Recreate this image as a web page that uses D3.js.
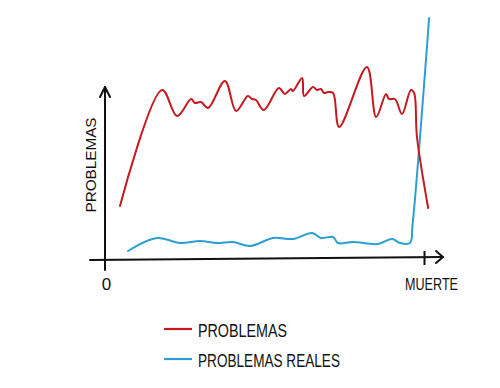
<!DOCTYPE html>
<html><head><meta charset="utf-8">
<script src="https://cdn.jsdelivr.net/npm/d3@7"></script>
<style>body{margin:0;background:#fff}svg{display:block}</style>
</head><body>
<svg id="c" width="500" height="388"></svg>
<script>
// Data (x: 0 = birth, 100 = death; y: arbitrary "problem" units)
const seriesNames = ["PROBLEMAS", "PROBLEMAS REALES"];
const seriesColors = ["#c41a1f", "#2b9fd3"];
const xTickValues = [0, 100];
const xTickLabels = ["0", "MUERTE"];
const yLabel = "PROBLEMAS";

const problemasX = [4.7,17.9,22.6,27.0,28.2,30.1,32.3,37.6,41.1,44.8,46.1,47.3,49.8,54.5,56.4,58.3,58.9,61.8,62.4,65.2,66.5,67.7,68.7,69.9,71.5,73.4,82.1,85.0,88.1,89.0,90.9,93.1,95.9,96.9,97.8,101.3];
const problemasY = [26.5,84.5,71.5,80,78,78.5,75.5,89,74,81.5,80,79.5,74.5,85.5,82.5,85,84,90.5,81.5,86,84.5,85,83,83.5,83,66,96,71,82.5,80,80,72.5,84.5,83,61,25.5];

const realesX = [7.2,16.3,23.5,29.8,35.1,40.1,45.5,52.7,58.9,64.9,67.7,71.5,73.0,77.7,85.6,90.0,92.5,95.6,96.4,101.6];
const realesY = [4,10.5,8,9,8,8.5,6.5,10.5,10,13,10.5,11,8,8.5,7.5,10,8,8,17,120.5];

const svg = d3.select("#c");
const x = d3.scaleLinear().domain([0, 100]).range([105, 424]);
const y = d3.scaleLinear().domain([0, 100]).range([259, 59]);

const ink = "#111";
const font = "'Liberation Sans', Arial, sans-serif";

// Y axis line with open arrow
svg.append("line").attr("x1", x(0)).attr("x2", x(0)).attr("y1", 270).attr("y2", 87)
  .attr("stroke", ink).attr("stroke-width", 2).attr("stroke-linecap", "round");
svg.append("path").attr("d", `M${x(0)-5},97 L${x(0)},87 L${x(0)+5},97`)
  .attr("fill", "none").attr("stroke", ink).attr("stroke-width", 2).attr("stroke-linecap", "round").attr("stroke-linejoin", "round");

// X axis line with open arrow
svg.append("line").attr("x1", 90).attr("x2", 443).attr("y1", 260).attr("y2", 257)
  .attr("stroke", ink).attr("stroke-width", 2).attr("stroke-linecap", "round");
svg.append("path").attr("d", `M436,251 L443,257 L436,263`)
  .attr("fill", "none").attr("stroke", ink).attr("stroke-width", 2).attr("stroke-linecap", "round").attr("stroke-linejoin", "round");

// X axis ticks/labels via d3 axis
const xAxis = d3.axisBottom(x).tickValues(xTickValues)
  .tickFormat((d, i) => xTickLabels[i]);
const gx = svg.append("g").attr("transform", "translate(0,258)").call(xAxis);
gx.select(".domain").remove();
gx.selectAll(".tick line").attr("y1", -7).attr("y2", 7)
  .attr("stroke", ink).attr("stroke-width", 2)
  .style("display", (d) => d === 0 ? "none" : null);
gx.selectAll(".tick text").attr("y", 20).attr("fill", ink)
  .style("font-family", font)
  .style("font-size", "17px")
  .attr("dx", (d) => d === 100 ? 7 : 1)
  .attr("textLength", (d) => d === 100 ? 53 : null)
  .attr("lengthAdjust", "spacingAndGlyphs");

// Y label
svg.append("text").attr("transform", "translate(96,165) rotate(-90)")
  .attr("text-anchor", "middle").attr("fill", ink)
  .style("font-family", font).style("font-size", "15px")
  .attr("textLength", 95).attr("lengthAdjust", "spacingAndGlyphs")
  .text(yLabel);

const line = d3.line().x(d => x(d[0])).y(d => y(d[1])).curve(d3.curveCatmullRom.alpha(0.5));

svg.append("path").datum(realesX.map((v, i) => [v, realesY[i]]))
  .attr("d", line).attr("fill", "none").attr("stroke", seriesColors[1])
  .attr("stroke-width", 2).attr("stroke-linecap", "round").attr("stroke-linejoin", "round");

svg.append("path").datum(problemasX.map((v, i) => [v, problemasY[i]]))
  .attr("d", line).attr("fill", "none").attr("stroke", seriesColors[0])
  .attr("stroke-width", 2).attr("stroke-linecap", "round").attr("stroke-linejoin", "round");

// Legend
const legendLengths = [89, 142];
const leg = svg.append("g");
seriesNames.forEach((name, i) => {
  const yy = 329 + i * 30;
  leg.append("line").attr("x1", 164).attr("x2", 192).attr("y1", yy).attr("y2", yy)
    .attr("stroke", seriesColors[i]).attr("stroke-width", 2.2);
  leg.append("text").attr("x", 198).attr("y", yy + 8).attr("fill", ink)
    .style("font-family", font)
    .style("font-size", "19px")
    .attr("textLength", legendLengths[i]).attr("lengthAdjust", "spacingAndGlyphs")
    .text(name);
});
</script>
</body></html>
